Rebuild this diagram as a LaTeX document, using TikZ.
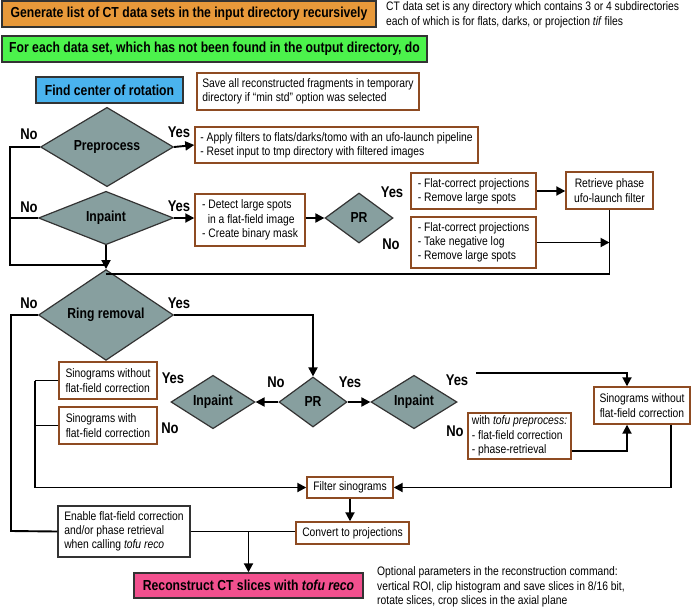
\documentclass[tikz,border=0pt]{standalone}
\usepackage{fontspec}
\setmainfont{Liberation Sans}[FakeStretch=0.84]
\usetikzlibrary{shapes.geometric,arrows.meta}
\definecolor{orng}{HTML}{E8993A}
\definecolor{grn}{HTML}{4CF24C}
\definecolor{blu}{HTML}{4AB3EE}
\definecolor{pnk}{HTML}{F2508E}
\definecolor{dia}{HTML}{879F9F}
\definecolor{brn}{HTML}{8E4B22}
\definecolor{dgr}{HTML}{333333}
\tikzset{
  conn/.style={line width=1.9pt, draw=black},
  arr/.style={conn, -{Triangle[length=9pt,width=9pt]}},
  hdr/.style={draw=dgr, line width=1.4pt, inner sep=0pt, font=\bfseries\fontsize{14.5}{16}\selectfont},
  bbox/.style={draw=brn, line width=1.4pt, fill=white, inner sep=0pt, align=left, font=\fontsize{12.3}{14.2}\selectfont},
  kbox/.style={bbox, draw=dgr},
  cbox/.style={bbox, align=center},
  dmd/.style={diamond, draw=dgr, fill=dia, line width=1.2pt, inner sep=0pt, font=\bfseries\fontsize{14.5}{16}\selectfont},
  lbl/.style={inner sep=0pt, font=\bfseries\fontsize{15.5}{17}\selectfont},
  note/.style={inner sep=0pt, anchor=west, align=left, font=\fontsize{12.3}{14.5}\selectfont},
}
\begin{document}
\begin{tikzpicture}[x=1pt,y=-1pt]
\useasboundingbox (0,0) rectangle (692,608);
% header boxes
\node[hdr, fill=orng, minimum width=374pt, minimum height=26pt] (gen) at (189,14) {Generate list of CT data sets in the input directory recursively};
\node[note] (ctnote) at (386,15) {CT data set is any directory which contains 3 or 4 subdirectories\\each of which is for flats, darks, or projection \textit{tif} files};
\node[hdr, fill=grn, minimum width=425pt, minimum height=26pt] (foreach) at (214.5,49) {For each data set, which has not been found in the output directory, do};
\node[hdr, fill=blu, minimum width=147pt, minimum height=26pt] (findcor) at (109.5,90) {Find center of rotation};
\node[bbox, minimum width=222pt, minimum height=37pt] (save) at (308,91.5) {Save all reconstructed fragments in temporary\\directory if “min std” option was selected};
% preprocess
\node[dmd, minimum width=133pt, minimum height=50pt] (pre) at (107,147) {Preprocess};
\node[bbox, minimum width=283pt, minimum height=36pt] (apply) at (336.5,145) {- Apply filters to flats/darks/tomo with an ufo-launch pipeline\\- Reset input to tmp directory with filtered images};
% inpaint 1
\node[dmd, minimum width=135pt, minimum height=50pt] (inp1) at (106,218) {Inpaint};
\node[bbox, minimum width=110pt, minimum height=52pt] (detect) at (250,220) {- Detect large spots\\\ \ in a flat-field image\\- Create binary mask};
\node[dmd, minimum width=68pt, minimum height=50pt] (pr1) at (359,218) {PR};
\node[bbox, minimum width=125pt, minimum height=36pt] (fc1) at (473.5,191) {- Flat-correct projections\\- Remove large spots};
\node[cbox, minimum width=87pt, minimum height=37pt] (retr) at (609.5,190.5) {Retrieve phase\\ufo-launch filter};
\node[bbox, minimum width=125pt, minimum height=51pt] (fc2) at (473.5,242.5) {- Flat-correct projections\\- Take negative log\\- Remove large spots};
% ring removal
\node[dmd, minimum width=135pt, minimum height=50pt] (ring) at (106,315) {Ring removal};
\node[dmd, minimum width=68pt, minimum height=50pt] (pr2) at (313,402) {PR};
\node[dmd, minimum width=84pt, minimum height=50pt] (inp2) at (213,402) {Inpaint};
\node[dmd, minimum width=86pt, minimum height=50pt] (inp3) at (414,402) {Inpaint};
\node[bbox, minimum width=98pt, minimum height=37pt] (sino1) at (108,380.5) {Sinograms without\\flat-field correction};
\node[bbox, minimum width=98pt, minimum height=37pt] (sino2) at (108,425.5) {Sinograms with\\flat-field correction};
\node[cbox, minimum width=96pt, minimum height=37pt] (sino3) at (642,405.5) {Sinograms without\\flat-field correction};
\node[bbox, minimum width=103pt, minimum height=46pt] (tofu) at (519.5,436) {with \textit{tofu preprocess:}\\- flat-field correction\\- phase-retrieval};
\node[cbox, minimum width=86pt, minimum height=21pt] (filt) at (350,487.5) {Filter sinograms};
\node[cbox, minimum width=113pt, minimum height=22pt] (conv) at (352.5,533) {Convert to projections};
\node[kbox, minimum width=132pt, minimum height=51pt] (enab) at (124,531.5) {Enable flat-field correction\\and/or phase retrieval\\when calling \textit{tofu reco}};
\node[hdr, fill=pnk, minimum width=229pt, minimum height=25pt] (reco) at (248.5,585.5) {Reconstruct CT slices with \textit{tofu reco}};
\node[note] (opt) at (377,587) {Optional parameters in the reconstruction command:\\vertical ROI, clip histogram and save slices in 8/16 bit,\\rotate slices, crop slices in the axial plane};
% labels
\node[lbl] (l1) at (29,134) {No};
\node[lbl] (l2) at (179,132) {Yes};
\node[lbl] (l3) at (29,207) {No};
\node[lbl] (l4) at (179,206) {Yes};
\node[lbl] (l5) at (392,192) {Yes};
\node[lbl] (l6) at (391,244) {No};
\node[lbl] (l7) at (29,303) {No};
\node[lbl] (l8) at (179,303) {Yes};
\node[lbl] (l9) at (276,382) {No};
\node[lbl] (l10) at (350,382) {Yes};
\node[lbl] (l11) at (457,380) {Yes};
\node[lbl] (l12) at (455,431) {No};
\node[lbl] (l13) at (173,378) {Yes};
\node[lbl] (l14) at (170,428) {No};
% coordinates
\coordinate (jl) at (10,265);
\coordinate (jm) at (106,265);
\coordinate (jm2) at (106,274);
\coordinate (jb) at (11,531);
\coordinate (js) at (476,373);
\coordinate (a1) at (35,380.5);
% connectors
\draw[conn] (pre.west) -| (jl) -- (jm);
\draw[conn] (inp1.west) -- (inp1.west -| jl);
\draw[arr] (pre.east) -- (apply.west);
\draw[arr] (inp1.east) -- (detect.west |- inp1.east);
\draw[arr] (detect.east |- pr1.west) -- (pr1.west);
\draw[arr] (fc1.east) -- (fc1.east -| retr.west);
\draw[conn] (retr.south) |- (jm2);
\draw[arr] (fc2.east) -- (fc2.east -| retr.south);
\draw[arr] (inp1.south) -- (ring.north);
\draw[conn] (ring.west) -| (jb) -- (enab.west);
\draw[arr] (ring.east) -| (pr2.north);
\draw[arr] (pr2.west) -- (inp2.east);
\draw[arr] (pr2.east) -- (inp3.west);
\draw[arr] (js) -| ([xshift=-15pt]sino3.north);
\draw[arr] ([yshift=-15pt]tofu.east) -| ([xshift=-15pt]sino3.south);
\draw[arr] ([xshift=29pt]sino3.south) |- (filt.east);
\draw[conn] (sino1.west) -- (a1);
\draw[conn] (sino2.west) -- (sino2.west -| a1);
\draw[arr] (a1) |- (filt.west);
\draw[arr] (filt.south) -- (filt.south |- conv.north);
\draw[conn] (enab.east) -- (enab.east -| conv.west);
\draw[arr] (enab.east -| reco.north) -- (reco.north);
\end{tikzpicture}
\end{document}
